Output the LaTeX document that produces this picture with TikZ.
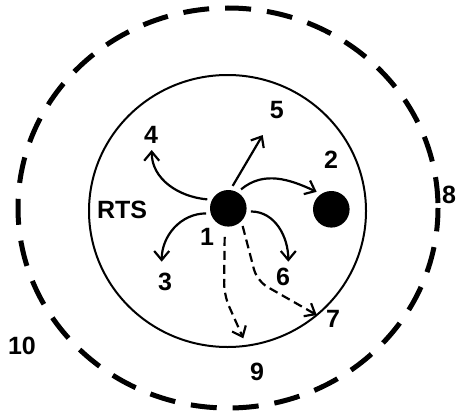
\documentclass[tikz,border=0pt]{standalone}
\usepackage{fontspec}
\setmainfont{Liberation Sans}
\usetikzlibrary{arrows.meta}

\begin{document}
\begin{tikzpicture}[x=1pt, y=1pt,
  dot/.style={circle, fill=black, inner sep=0pt, minimum size=36.6pt, outer sep=4.5pt},
  lbl/.style={font=\fontsize{25}{29}\selectfont\bfseries, inner sep=0pt},
  arr/.style={line width=2.2pt, -{Straight Barb[length=9pt,width=15pt]}},
  darr/.style={arr, dash pattern=on 9pt off 5pt, rounded corners=12pt}]

\useasboundingbox (0,0) rectangle (457,416);

\def\rx{210}
\def\ry{200}

% zones
\draw[line width=5pt, dash pattern=on 26pt off 16pt, dash phase=37pt]
  (228,208) ellipse [x radius=\rx, y radius=\ry];
\draw[line width=2pt] (227.5,205) ellipse [x radius=138.5, y radius=136];

\node[dot] (n1) at (228.3,207.7) {};
\node[dot] (n2) at (331.3,206.7) {};

\node[lbl] (rts) at (122,206) {RTS};
\node[lbl] (l1) at (207,179.3) {1};
\node[lbl] (l2) at (331,256) {2};
\node[lbl] (l3) at (165,134) {3};
\node[lbl] (l4) at (151,281) {4};
\node[lbl] (l5) at (276.7,306) {5};
\node[lbl] (l6) at (283,139) {6};
\node[lbl] (l7) at (333,97) {7};
\node[lbl] (l8) at (449,221) {8};
\node[lbl] (l9) at (257,44) {9};
\node[lbl] (l10) at (22,70) {10};

\coordinate (t3) at (161.7,154.3);
\coordinate (t4) at (151.7,266);
\coordinate (t5) at (262.7,281);
\coordinate (t6) at (288.3,154.3);
\coordinate (t7) at (316.7,101);
\coordinate (t9) at (243.3,77.7);
\coordinate (c7) at (257,135);
\coordinate (c9) at (224,121);

\draw[arr] (n1.157) to[out=175, in=-90] (t4);
\draw[arr] (n1.79) -- (t5);
\draw[arr] (n1.56) to[out=40, in=155] (n2.130);
\draw[arr] (n1.193) to[out=180, in=90] (t3);
\draw[arr] (n1.-8) to[out=0, in=90] (t6);

% dashed ones
\draw[darr] (n1.-51) -- (c7) -- (t7);
\draw[darr, shorten <=6pt] (n1.-99) -- (c9) -- (t9);

\end{tikzpicture}
\end{document}
